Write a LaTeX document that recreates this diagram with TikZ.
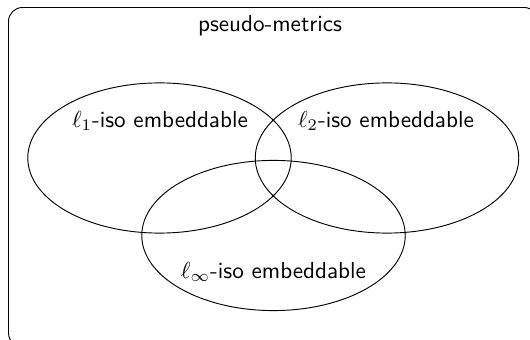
\documentclass[tikz,border=0pt]{standalone}
\usepackage{amsmath,amssymb}
\usepackage{tikz}

\begin{document}
\begin{tikzpicture}[x=0.01518cm,y=-0.01518cm,font=\sffamily]
\useasboundingbox (0,0) rectangle (530,340);
\clip (0,0) rectangle (530,340);
\draw[rounded corners=6pt] (8.5,7.5) rectangle (538,347);
\node (P) at (270,26) {pseudo-metrics};
\draw (159.5,158) ellipse (2cm and 1.14cm);
\draw (387,158) ellipse (2cm and 1.14cm);
\draw (273.5,235.5) ellipse (2cm and 1.14cm);
\node (L1) at (160,121) {$\ell_1$-iso embeddable};
\node (L2) at (386,121) {$\ell_2$-iso embeddable};
\node (Linf) at (273.5,272) {$\ell_\infty$-iso embeddable};
\end{tikzpicture}
\end{document}
